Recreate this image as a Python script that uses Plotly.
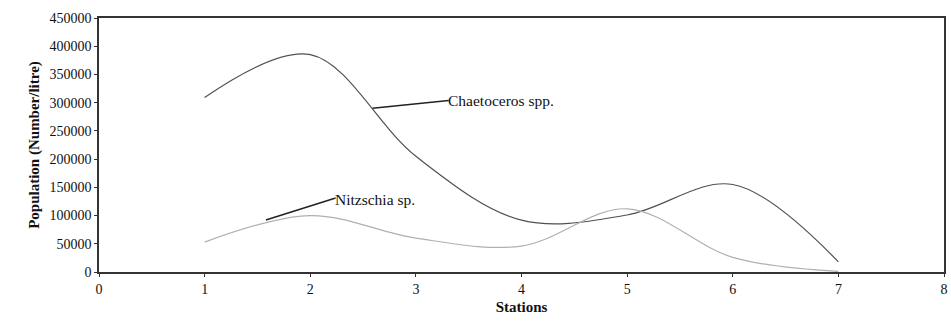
import plotly.graph_objects as go

stations = [1, 2, 3, 4, 5, 6, 7]
chaetoceros = [309000, 385000, 205000, 92000, 101000, 155000, 18000]
nitzschia = [53000, 100000, 60000, 46000, 112000, 26000, 1000]
x_ticks = [0, 1, 2, 3, 4, 5, 6, 7, 8]
y_ticks = [0, 50000, 100000, 150000, 200000, 250000, 300000, 350000, 400000, 450000]

font_family = "Liberation Serif, Times New Roman, serif"

fig = go.Figure()
fig.add_trace(go.Scatter(x=stations, y=chaetoceros, mode="lines", name="Chaetoceros spp.",
                         line=dict(color="#505050", width=1.2, shape="spline", smoothing=1.0)))
fig.add_trace(go.Scatter(x=stations, y=nitzschia, mode="lines", name="Nitzschia sp.",
                         line=dict(color="#b0b0b0", width=1.2, shape="spline", smoothing=1.0)))

# label leader lines
fig.add_shape(type="line", x0=2.59, y0=290000, x1=3.31, y1=304000,
              line=dict(color="#222", width=1.5))
fig.add_shape(type="line", x0=1.58, y0=92000, x1=2.24, y1=131000,
              line=dict(color="#222", width=1.5))
fig.add_annotation(x=3.31, y=304000, text="Chaetoceros spp.", showarrow=False,
                   xanchor="left", yanchor="middle", xshift=-3,
                   font=dict(family=font_family, size=15.5, color="#111"))
fig.add_annotation(x=2.24, y=129000, text="Nitzschia sp.", showarrow=False,
                   xanchor="left", yanchor="middle", xshift=-3,
                   font=dict(family=font_family, size=15.5, color="#111"))

fig.update_layout(
    width=951, height=322,
    margin=dict(l=99, r=7, t=18, b=50, autoexpand=False),
    paper_bgcolor="white", plot_bgcolor="white",
    showlegend=False,
    font=dict(family=font_family, size=14, color="#111"),
    xaxis=dict(range=[0, 8], tickvals=x_ticks, ticks="outside", ticklen=3, tickcolor="#333",
               showgrid=False, zeroline=False, showline=True, linecolor="#333", linewidth=1.5,
               mirror=True, automargin=False, tickfont=dict(size=14), ticklabeloverflow="allow",
               title=dict(text="<b>Stations</b>", font=dict(family=font_family, size=15), standoff=6)),
    yaxis=dict(range=[0, 450000], tickvals=y_ticks, tickformat="d", ticks="outside", ticklen=3,
               tickcolor="#333", showgrid=False, zeroline=False, showline=True, linecolor="#333",
               linewidth=1.5, mirror=True, automargin=False, tickfont=dict(size=14),
               title=dict(text="<b>Population (Number/litre)</b>", font=dict(family=font_family, size=15), standoff=6)),
)

# remove the default page margin so the figure fills the window exactly
fig.write_html("out.html", config={"displayModeBar": False},
               post_script="document.body.style.margin='0';document.body.style.overflow='hidden';")
